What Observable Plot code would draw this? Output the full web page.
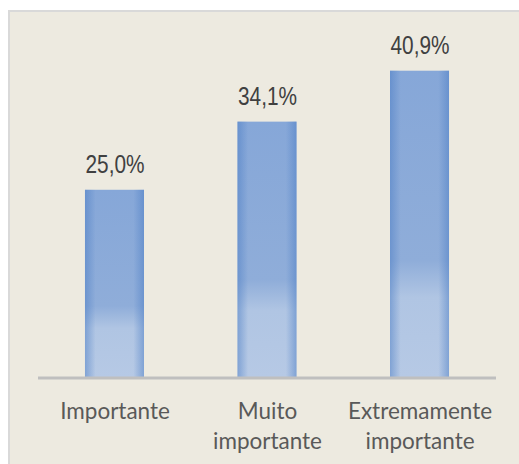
<!DOCTYPE html>
<html><head><meta charset="utf-8">
<script src="https://cdn.jsdelivr.net/npm/d3@7"></script>
<script src="https://cdn.jsdelivr.net/npm/@observablehq/plot@0.6"></script>
<style>
body{margin:0;background:#fff;}
#bg{position:absolute;left:8px;top:10px;width:509px;height:452px;background:#edeae0;border-top:2px solid #d9d9d9;border-left:2px solid #d9d9d9;}
#chart{position:absolute;left:0;top:0;}
</style></head><body><div id="bg"></div><div id="chart"></div>
<script>
const categories = ["Importante", "Muito importante", "Extremamente importante"];
const tickLabels = ["Importante", "Muito\nimportante", "Extremamente\nimportante"];
const values = [25.0, 34.1, 40.9];

const data = categories.map((c, i) => ({category: c, label: tickLabels[i], value: values[i], text: values[i].toFixed(1).replace(".", ",") + "%"}));

const plot = Plot.plot({
  width: 519,
  height: 464,
  marginLeft: 38,
  marginRight: 23,
  marginTop: 40,
  marginBottom: 87,
  style: {background: "transparent", overflow: "visible"},
  x: {domain: categories, paddingInner: 0.613, paddingOuter: 0.308, round: false, axis: null},
  y: {domain: [0, 45], axis: null},
  marks: [
    Plot.barY(data, {x: "category", y: "value", fill: "url(#barV)"}),
    Plot.barY(data, {x: "category", y: "value", fill: "url(#barH)"}),
    Plot.ruleY([0], {stroke: "#bfbfbf", strokeWidth: 3, dy: 0.5}),
    Plot.text(data, {x: "category", y: "value", text: "text", lineAnchor: "bottom", dy: -17, fontSize: 25, fontFamily: "'Liberation Sans', Arial, sans-serif", fill: "#404040"}),
    Plot.text(data, {x: "category", text: "label", frameAnchor: "bottom", lineAnchor: "top", dy: 20, fontSize: 22.5, lineHeight: 1.33, fontFamily: "Lato, sans-serif", fill: "#595959"})
  ]
});

const svg = d3.select(plot);
const defs = svg.insert("defs", ":first-child");
const gv = defs.append("linearGradient").attr("id", "barV").attr("x1", 0).attr("y1", 0).attr("x2", 0).attr("y2", 1);
[[0, "#86a7d8"], [0.62, "#8fadd9"], [0.74, "#b0c5e3"], [1, "#b6c9e5"]].forEach(([o, c]) => gv.append("stop").attr("offset", o).attr("stop-color", c));
const gh = defs.append("linearGradient").attr("id", "barH").attr("x1", 0).attr("y1", 0).attr("x2", 1).attr("y2", 0);
[[0, 0.5], [0.18, 0], [0.82, 0], [1, 0.5]].forEach(([o, a]) => gh.append("stop").attr("offset", o).attr("stop-color", "#4a7cc4").attr("stop-opacity", a));

// condensed look for the value labels
svg.selectAll("text").filter(function() { return /%$/.test(this.textContent); })
  .attr("textLength", 59).attr("lengthAdjust", "spacingAndGlyphs");

document.getElementById("chart").appendChild(plot);
</script></body></html>
